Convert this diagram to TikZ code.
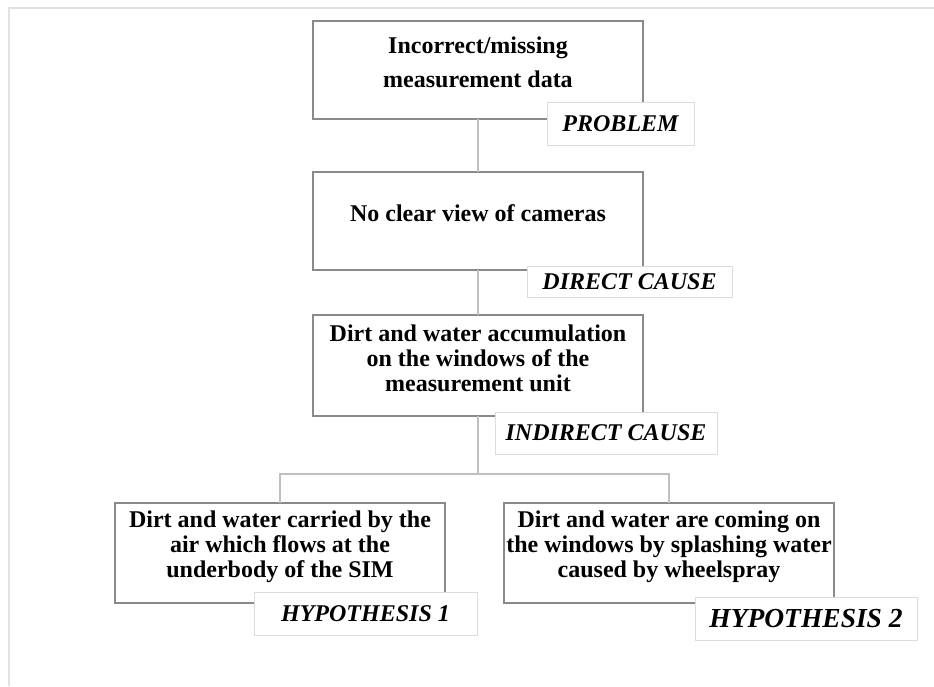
\documentclass[tikz,border=0pt]{standalone}
\usepackage{fontspec}
\setmainfont{Liberation Serif}
\definecolor{boxgray}{HTML}{8A8A8A}
\definecolor{linegray}{HTML}{C0C0C0}
\definecolor{labgray}{HTML}{DCDCDC}
\definecolor{framegray}{HTML}{E2E2E2}
\begin{document}
\begin{tikzpicture}[x=1pt,y=-1pt,
  box/.style={draw=boxgray, line width=1.4pt, fill=white, minimum width=330pt, inner sep=0pt, outer sep=0pt, anchor=north west},
  boxtext/.style={inner sep=0pt, anchor=north, align=center, font=\fontsize{24}{24.8}\selectfont\bfseries},
  labelbox/.style={draw=labgray, line width=1pt, fill=white, inner sep=0pt, font=\fontsize{24}{26}\selectfont\bfseries\itshape},
  conn/.style={draw=linegray, line width=2pt}
]
\useasboundingbox (0,0) rectangle (934,686);
\draw[draw=framegray, line width=2pt] (9,686) -- (9,8) -- (934,8);

% main boxes
\node[box, minimum height=98pt] (b1) at (313,21) {};
\node[box, minimum height=98pt] (b2) at (313,172) {};
\node[box, minimum height=101pt] (b3) at (313,315) {};
\node[box, minimum height=100pt] (b4) at (115,503) {};
\node[box, minimum height=100pt] (b5) at (504,503) {};

% connectors
\coordinate (j) at (b3.south |- 0,474);
\draw[conn] (b1.south) -- (b2.north);
\draw[conn] (b2.south) -- (b3.north);
\draw[conn] (b3.south) -- (j);
\draw[conn] (b4.north) |- (j) -| (b5.north);

% box texts
\node[boxtext, font=\fontsize{24}{34}\selectfont\bfseries] (t1) at (478,36.7) {Incorrect/missing\\measurement data};
\node[boxtext] (t2) at (478,204.7) {No clear view of cameras};
\node[boxtext] (t3) at (478,324.7) {Dirt and water accumulation\\on the windows of the\\measurement unit};
\node[boxtext] (t4) at (280,510.7) {Dirt and water carried by the\\air which flows at the\\underbody of the SIM};
\node[boxtext] (t5) at (669,510.7) {Dirt and water are coming on\\the windows by splashing water\\caused by wheelspray};

% labels
\node[labelbox, minimum width=147pt, minimum height=43pt] (l1) at (620.5,123.5) {PROBLEM};
\node[labelbox, minimum width=205pt, minimum height=31pt] (l2) at (629.5,281.5) {DIRECT CAUSE};
\node[labelbox, minimum width=222pt, minimum height=42pt] (l3) at (606,433) {INDIRECT CAUSE};
\node[labelbox, minimum width=223pt, minimum height=43pt] (l4) at (365.5,613.5) {HYPOTHESIS 1};
\node[labelbox, minimum width=222pt, minimum height=43pt, font=\fontsize{27.5}{29}\selectfont\bfseries\itshape] (l5) at (806,618.5) {HYPOTHESIS 2};
\end{tikzpicture}
\end{document}
